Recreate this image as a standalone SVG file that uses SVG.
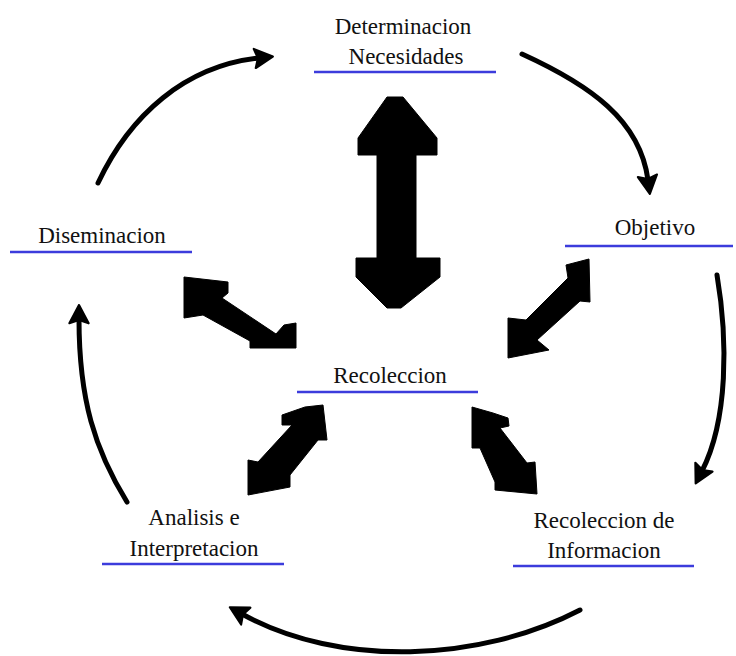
<svg xmlns="http://www.w3.org/2000/svg" width="736" height="656" viewBox="0 0 736 656">
  <style>
    .label { font-family: "Liberation Serif", "Times New Roman", serif; font-size: 23px; fill: #111; text-anchor: middle; }
    .rule { stroke: #3c3cdc; stroke-width: 2.5; }
    .flow { fill: none; stroke: #000; stroke-width: 5; stroke-linecap: round; stroke-linejoin: round; marker-end: url(#head); }
    .block { fill: #000; stroke: #000; stroke-width: 1; stroke-linejoin: round; }
  </style>
  <defs>
    <marker id="head" markerUnits="userSpaceOnUse" markerWidth="30" markerHeight="30" viewBox="-2 -14 24 28" refX="4" refY="0" orient="auto" overflow="visible">
      <path d="M17,0 L0,-9 L3,0 L0,9 Z" fill="#000" stroke="#000" stroke-width="2" stroke-linejoin="round"/>
    </marker>
  </defs>
  <rect width="736" height="656" fill="#fff"/>

  <!-- cycle arrows and two-way block arrows -->
  <g id="connectors">
    <path class="flow" d="M98,183 C130,115 185,66 259,58"/>
    <path class="flow" d="M522,54 C590,85 640,120 648,180"/>
    <path class="flow" d="M717,275 C728,340 728,420 702,471"/>
    <path class="flow" d="M580,610 C480,662 340,668 242,614"/>
    <path class="flow" d="M127,502 C95,450 79,400 79,319"/>

    <polygon class="block" points="387,97 403,97 437,138 437,155 416,155 416,258 440,258 440,277 401,308 387,308 356,277 356,258 377,258 377,155 358,155 358,138"/>
    <polygon class="block" points="184,277 228,282 228,293 222,298 276,334 284,325 296,323 296,348 250,348 250,341 203,315 184,318"/>
    <polygon class="block" points="589,259 566,265 568,278 526,320 508,318 508,358 549,350 537,340 580,301 590,302"/>
    <polygon class="block" points="323,405 305,407 282,415 282,425 292,425 258,462 248,460 248,495 290,487 290,475 318,440 327,440"/>
    <polygon class="block" points="472,407 493,413 508,418 509,426 500,428 527,463 535,462 537,494 495,490 495,482 480,448 472,448"/>
  </g>

  <g id="n-determinacion">
    <text class="label" x="403" y="34">Determinacion</text>
    <text class="label" x="406" y="64">Necesidades</text>
    <line class="rule" x1="314" y1="72" x2="496" y2="72"/>
  </g>
  <g id="n-objetivo">
    <text class="label" x="655" y="235">Objetivo</text>
    <line class="rule" x1="565" y1="246" x2="733" y2="246"/>
  </g>
  <g id="n-diseminacion">
    <text class="label" x="102" y="243">Diseminacion</text>
    <line class="rule" x1="10" y1="252" x2="192" y2="252"/>
  </g>
  <g id="n-recoleccion">
    <text class="label" x="390" y="383">Recoleccion</text>
    <line class="rule" x1="297" y1="392" x2="478" y2="392"/>
  </g>
  <g id="n-analisis">
    <text class="label" x="194" y="525">Analisis e</text>
    <text class="label" x="194" y="556">Interpretacion</text>
    <line class="rule" x1="102" y1="564" x2="284" y2="564"/>
  </g>
  <g id="n-informacion">
    <text class="label" x="604" y="528">Recoleccion de</text>
    <text class="label" x="604" y="558">Informacion</text>
    <line class="rule" x1="513" y1="566" x2="694" y2="566"/>
  </g>
</svg>
